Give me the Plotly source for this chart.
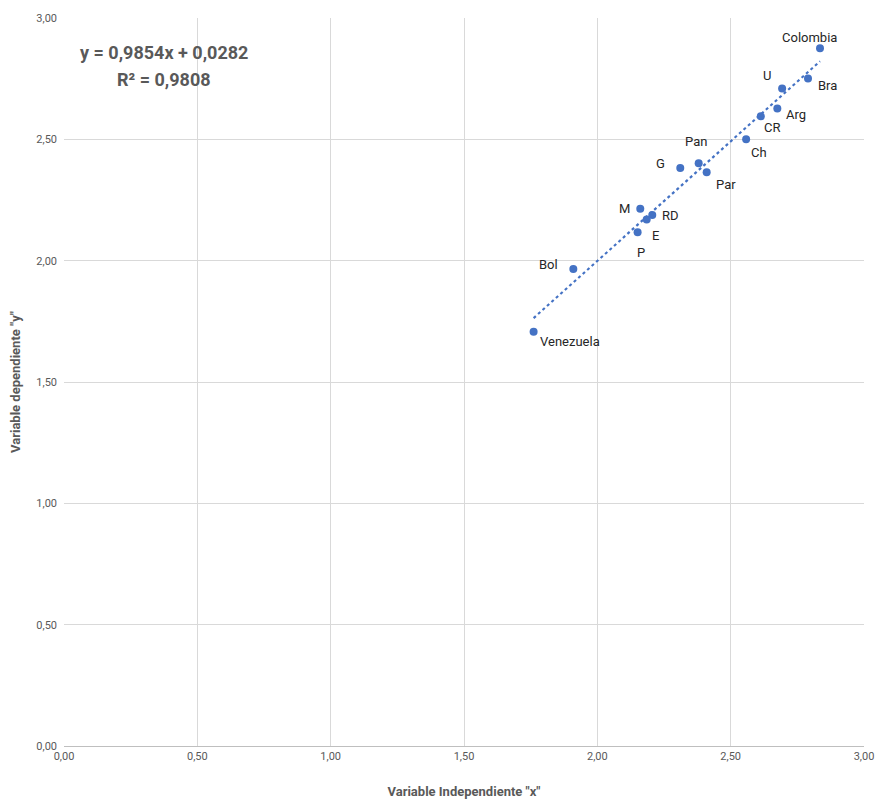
import plotly.graph_objects as go

# Data
countries = ["Colombia", "Bra", "U", "Arg", "CR", "Ch", "Pan", "Par", "G",
             "M", "RD", "E", "P", "Bol", "Venezuela"]
x_vals = [2.835, 2.790, 2.693, 2.675, 2.613, 2.558, 2.380, 2.410, 2.311,
          2.161, 2.206, 2.185, 2.151, 1.910, 1.761]
y_vals = [2.875, 2.751, 2.709, 2.627, 2.595, 2.500, 2.401, 2.364, 2.382,
          2.214, 2.188, 2.170, 2.117, 1.966, 1.707]

# Trendline coefficients as printed on the chart
slope = 0.9854
intercept = 0.0282
r_squared = 0.9808

tick_vals = [0, 0.5, 1.0, 1.5, 2.0, 2.5, 3.0]

# Label placement offsets (pixels) relative to each point
label_offsets = {
    "Colombia": (-11, 11), "Bra": (19, -7), "U": (-15, 13), "Arg": (19, -6),
    "CR": (11, -11), "Ch": (13, -13), "Pan": (-3, 22), "Par": (19, -12),
    "G": (-20, 4), "M": (-16, 0), "RD": (18, 0), "E": (9, -16),
    "P": (3, -20), "Bol": (-25, 4), "Venezuela": (36, -10),
}

FONT = "Roboto, sans-serif"
BLUE = "#4472C4"
GRAY = "#595959"

xmin, xmax = min(x_vals), max(x_vals)
trend_x = [xmin, xmax]
trend_y = [slope * v + intercept for v in trend_x]

fig = go.Figure()
fig.add_trace(go.Scatter(
    x=trend_x, y=trend_y, mode="lines",
    line=dict(color=BLUE, width=2.2, dash="dot"),
    hoverinfo="skip", showlegend=False,
))
fig.add_trace(go.Scatter(
    x=x_vals, y=y_vals, mode="markers",
    marker=dict(color=BLUE, size=8),
    showlegend=False,
))

for name, xv, yv in zip(countries, x_vals, y_vals):
    dx, dy = label_offsets[name]
    fig.add_annotation(
        x=xv, y=yv, text=name, showarrow=False,
        xshift=dx, yshift=dy,
        font=dict(family=FONT, size=13, color="#262626"),
    )

eq_line1 = f"y = {slope:.4f}x + {intercept:.4f}".replace(".", ",")
eq_line2 = f"R² = {r_squared:.4f}".replace(".", ",")
for txt, py in ((eq_line1, 0.952), (eq_line2, 0.915)):
    fig.add_annotation(
        xref="paper", yref="paper", x=0.125, y=py, text="<b>" + txt + "</b>",
        xanchor="center", yanchor="middle",
        showarrow=False, align="center",
        font=dict(family=FONT, size=18, color=GRAY),
    )

fig.update_layout(
    width=877, height=799,
    margin=dict(l=64, r=13, t=18, b=53),
    paper_bgcolor="white", plot_bgcolor="white",
    separators=",.",
    font=dict(family=FONT, color=GRAY),
)
fig.update_xaxes(
    range=[0, 3], tickvals=tick_vals, tickformat=".2f", automargin=False,
    ticklabeloverflow="allow",
    showgrid=True, gridcolor="#d9d9d9", gridwidth=1,
    zeroline=False, showline=True, linecolor="#bfbfbf", linewidth=1,
    ticks="", tickfont=dict(size=11, color=GRAY),
    title=dict(text='Variable Independiente "x"', standoff=25,
               font=dict(size=13, color=GRAY, family=FONT, weight="bold")),
)
fig.update_yaxes(
    range=[0, 3], tickvals=tick_vals, tickformat=".2f", automargin=False,
    showgrid=True, gridcolor="#d9d9d9", gridwidth=1,
    zeroline=False, showline=False,
    ticks="", ticklabelstandoff=6, tickfont=dict(size=11, color=GRAY),
    title=dict(text='Variable dependiente "y"', standoff=12,
               font=dict(size=13, color=GRAY, family=FONT, weight="bold")),
)

fig.write_html(
    "out.html",
    config={"displayModeBar": False},
    post_script="document.body.style.margin='0';document.body.style.overflow='hidden';",
)
